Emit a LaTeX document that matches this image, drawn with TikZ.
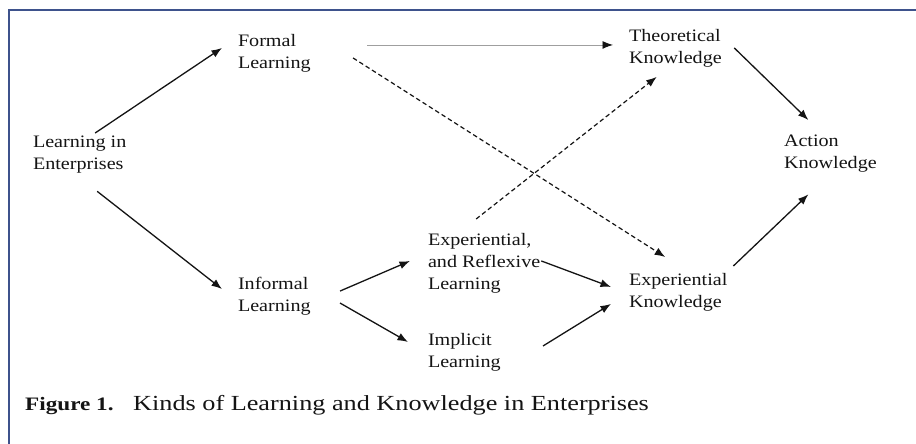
\documentclass[tikz,border=0pt]{standalone}
\usepackage{fontspec}
\setmainfont[FakeStretch=1.15]{Liberation Serif}
\newfontfamily\capfont[FakeStretch=1.22]{Liberation Serif}
\usetikzlibrary{arrows.meta}
\definecolor{framecol}{RGB}{62,82,140}
\definecolor{inkcol}{RGB}{20,20,20}
\tikzset{
  lbl/.style={anchor=north west, inner sep=0pt, outer sep=0pt, align=left,
    font=\fontsize{17.5}{22}\selectfont, text=inkcol},
  arr/.style={draw=inkcol, line width=1.3pt, -{Latex[length=10.5pt,width=8pt]}},
  dasharr/.style={arr, line width=1.2pt, dash pattern=on 4.5pt off 3pt},
  thinarr/.style={draw=gray!75, line width=0.9pt, -{Latex[length=10.5pt,width=8pt,color=inkcol,fill=inkcol]}},
}
\begin{document}
\begin{tikzpicture}[x=1pt,y=-1pt]
\useasboundingbox (0,0) rectangle (916,444);
\fill[white] (0,0) rectangle (916,444);
% frame
\draw[framecol, line width=1.6pt] (9,444) -- (9,10) -- (916,10);

% nodes
\node[lbl] (lie) at (33,136) {Learning in\\Enterprises};
\node[lbl] (formal) at (238,34) {Formal\\Learning};
\node[lbl] (theo) at (629,29) {Theoretical\\Knowledge};
\node[lbl] (action) at (784,135) {Action\\Knowledge};
\node[lbl] (informal) at (238,277) {Informal\\Learning};
\node[lbl] (expl) at (428,233) {Experiential,\\and Reflexive\\Learning};
\node[lbl] (implicit) at (428,333) {Implicit\\Learning};
\node[lbl] (expk) at (629,273) {Experiential\\Knowledge};

% connectors
\draw[arr] ([shift={(15.5,-3)}]lie.north) -- ([shift={(-16,-5)}]formal.west);
\draw[arr] ([shift={(17.5,18)}]lie.south) -- ([shift={(-16,-7)}]informal.west);
\draw[thinarr] ([shift={(56.4,-8)}]formal.east) -- ([shift={(-16,-3)}]theo.west);
\draw[dasharr] ([shift={(42.4,5)}]formal.east) -- ([shift={(-13,-16)}]expk.north);
\draw[arr] ([shift={(12.5,0)}]theo.east) -- ([shift={(-22,-15)}]action.north);
\draw[arr] ([shift={(6,-7)}]expk.north east) -- ([shift={(-22,22)}]action.south);
\draw[arr] ([shift={(29.4,-5)}]informal.east) -- ([shift={(-18,-2)}]expl.west);
\draw[arr] ([shift={(29.4,7)}]informal.east) -- ([shift={(-20,-10)}]implicit.west);
\draw[arr] ([shift={(1,-2)}]expl.east) -- ([shift={(-18,-5)}]expk.west);
\draw[arr] ([shift={(42.4,-6)}]implicit.east) -- ([shift={(-18,12)}]expk.west);
\draw[dasharr] ([shift={(-8,-14)}]expl.north) -- ([shift={(-18.7,10)}]theo.south);

% caption
\node[anchor=base west, inner sep=0pt, font=\capfont\bfseries\fontsize{19}{22}\selectfont, text=inkcol] (figlbl) at (25,410) {Figure 1.};
\node[anchor=base west, inner sep=0pt, font=\capfont\fontsize{21.5}{25}\selectfont, text=inkcol] (figcap) at (133,410) {Kinds of Learning and Knowledge in Enterprises};
\end{tikzpicture}
\end{document}
